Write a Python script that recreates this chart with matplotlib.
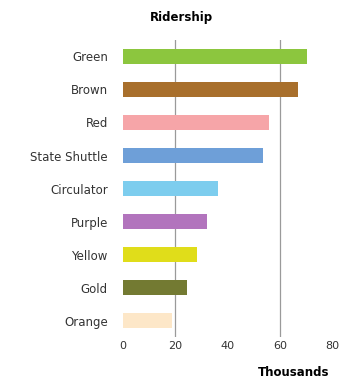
import matplotlib.pyplot as plt

routes = ['Green', 'Brown', 'Red', 'State Shuttle', 'Circulator',
          'Purple', 'Yellow', 'Gold', 'Orange']
riders = [70.4, 66.9, 55.8, 53.5, 36.2, 31.9, 28.1, 24.6, 18.5]
colors = ['#8cc63e', '#a86f2c', '#f6a5a8', '#6e9fd8', '#7dcdee',
          '#b274bd', '#e0dd1a', '#737a32', '#fde7c8']
xticks = [0, 20, 40, 60, 80]
gridx = [20, 60]

fig = plt.figure(figsize=(3.45, 3.84), dpi=100)
ax = fig.add_axes([0.357, 0.122, 0.606, 0.774])

ypos = list(range(len(routes)))
ax.barh(ypos, riders, height=0.44, color=colors, zorder=2)
for g in gridx:
    ax.axvline(g, color='#9a9a9a', lw=0.9, zorder=1)

ax.set_xlim(0, 80)
ax.set_ylim(len(routes) - 0.5, -0.5)
ax.set_yticks(ypos)
ax.set_yticklabels(routes, fontsize=8.5, color='#333333')
ax.set_xticks(xticks)
ax.set_xticklabels([str(t) for t in xticks], fontsize=8, color='#333333')
ax.tick_params(axis='both', length=0)
ax.tick_params(axis='y', pad=11)
ax.tick_params(axis='x', pad=3)
for s in ax.spines.values():
    s.set_visible(False)

fig.text(0.527, 0.955, 'Ridership', ha='center', va='center',
         fontsize=8.5, fontweight='bold')
fig.text(0.85, 0.031, 'Thousands', ha='center', va='center',
         fontsize=8.5, fontweight='bold')

fig.savefig('out.png', dpi=100)
